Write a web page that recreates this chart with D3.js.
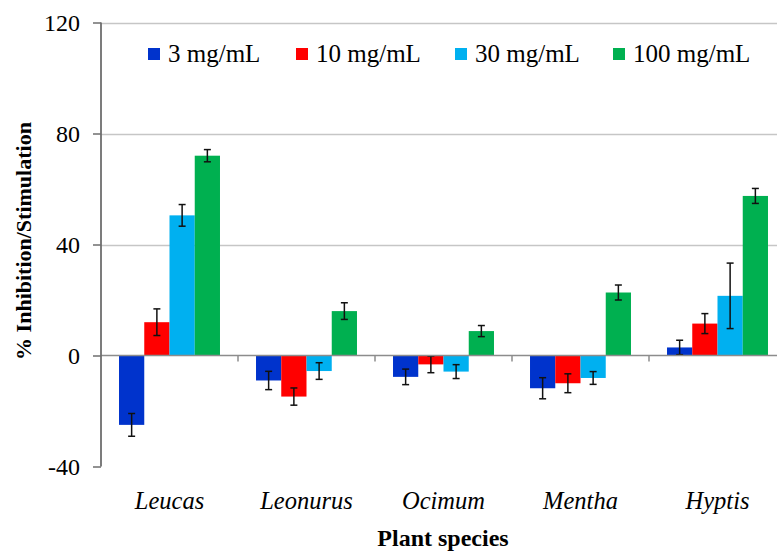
<!DOCTYPE html>
<html>
<head>
<meta charset="utf-8">
<script src="https://cdn.jsdelivr.net/npm/d3@7"></script>
<style>
  html, body { margin: 0; padding: 0; background: #fff; }
  svg { display: block; }
  svg text { font-family: "Liberation Serif", "Times New Roman", Tinos, "DejaVu Serif", serif !important; fill: #000; }
</style>
</head>
<body>
<svg id="chart" width="777" height="551"></svg>
<script>
// ---- data ----
const categories = ["Leucas", "Leonurus", "Ocimum", "Mentha", "Hyptis"];
const seriesNames = ["3 mg/mL", "10 mg/mL", "30 mg/mL", "100 mg/mL"];
const values3   = [-25, -9, -7.7, -11.8, 2.9];
const values10  = [12, -14.8, -3.2, -10, 11.5];
const values30  = [50.5, -5.6, -5.8, -8.1, 21.5];
const values100 = [72, 16, 8.8, 22.7, 57.5];
const errors3   = [4.1, 3.3, 2.8, 3.8, 2.6];
const errors10  = [4.8, 3.1, 3.0, 3.4, 3.6];
const errors30  = [3.9, 3.0, 2.5, 2.3, 11.8];
const errors100 = [2.2, 3.0, 2.0, 2.7, 2.7];
const yTicks = [-40, 0, 40, 80, 120];
const colors = ["#0033CC", "#FF0000", "#00B0F0", "#00B050"];

const seriesValues = [values3, values10, values30, values100];
const seriesErrors = [errors3, errors10, errors30, errors100];

(function () {
// ---- layout ----
const svg = d3.select("#chart");
const mLeft = 101, mRight = 786, mTop = 22.5, mBottom = 466.5;

const x0 = d3.scaleBand().domain(categories).range([mLeft, mRight]).paddingInner(0.263).paddingOuter(0.1315);
const x1 = d3.scaleBand().domain(seriesNames).range([0, x0.bandwidth()]).padding(0);
const y = d3.scaleLinear().domain([-40, 120]).range([mBottom, mTop]);
const groupScale = d3.scaleBand().domain(categories).range([mLeft, mRight]).padding(0);

// gridlines
svg.append("g").selectAll("line").data(yTicks.filter(t => t > 0)).join("line")
  .attr("x1", mLeft).attr("x2", mRight)
  .attr("y1", d => Math.round(y(d)) + 0.5).attr("y2", d => Math.round(y(d)) + 0.5)
  .attr("stroke", "#c6c6c6").attr("stroke-width", 1.3);

// bars
const groups = svg.append("g").selectAll("g").data(categories).join("g")
  .attr("transform", d => `translate(${x0(d)},0)`);

groups.each(function(cat, ci) {
  const g = d3.select(this);
  seriesNames.forEach((s, si) => {
    const v = seriesValues[si][ci];
    g.append("rect")
      .attr("x", x1(s))
      .attr("width", x1.bandwidth())
      .attr("y", y(Math.max(0, v)))
      .attr("height", Math.abs(y(v) - y(0)))
      .attr("fill", colors[si]);
  });
});

// zero line with category tick marks
svg.append("line")
  .attr("x1", mLeft).attr("x2", mRight)
  .attr("y1", y(0)).attr("y2", y(0))
  .attr("stroke", "#8c8c8c").attr("stroke-width", 1.5);
svg.append("g").selectAll("line").data(categories.slice(1)).join("line")
  .attr("x1", d => groupScale(d)).attr("x2", d => groupScale(d))
  .attr("y1", y(0)).attr("y2", y(0) + 6)
  .attr("stroke", "#8c8c8c").attr("stroke-width", 1.5);

// error bars
groups.each(function(cat, ci) {
  const g = d3.select(this);
  seriesNames.forEach((s, si) => {
    const v = seriesValues[si][ci], e = seriesErrors[si][ci];
    const cx = x1(s) + x1.bandwidth() / 2;
    const eg = g.append("g").attr("stroke", "#111").attr("stroke-width", 1.5);
    eg.append("line").attr("x1", cx).attr("x2", cx).attr("y1", y(v + e)).attr("y2", y(v - e));
    eg.append("line").attr("x1", cx - 3.5).attr("x2", cx + 3.5).attr("y1", y(v + e)).attr("y2", y(v + e));
    eg.append("line").attr("x1", cx - 3.5).attr("x2", cx + 3.5).attr("y1", y(v - e)).attr("y2", y(v - e));
  });
});

// y axis
const yAxis = svg.append("g").attr("transform", `translate(${mLeft},0)`)
  .call(d3.axisLeft(y).tickValues(yTicks).tickSize(8).tickPadding(13).tickFormat(d => String(d)));
yAxis.attr("font-family", null);
yAxis.select(".domain").attr("stroke", "#6e6e6e").attr("stroke-width", 1.8).attr("d", `M0,${mTop}V${mBottom}`);
yAxis.selectAll(".tick line").attr("stroke", "#6e6e6e").attr("stroke-width", 1.5);
yAxis.selectAll(".tick text").style("font-size", "24px").attr("fill", "#000");

// category labels
svg.append("g").selectAll("text").data(categories).join("text")
  .attr("x", d => groupScale(d) + groupScale.bandwidth() / 2)
  .attr("y", 509)
  .attr("text-anchor", "middle")
  .style("font-size", "24.5px").style("font-style", "italic")
  .text(d => d);

// axis titles
svg.append("text")
  .attr("x", 443).attr("y", 546)
  .attr("text-anchor", "middle")
  .style("font-size", "24px").style("font-weight", "bold")
  .text("Plant species");
svg.append("text")
  .attr("transform", "translate(31,241) rotate(-90)")
  .attr("text-anchor", "middle")
  .style("font-size", "22px").style("font-weight", "bold")
  .text("% Inhibition/Stimulation");

// legend
const legendX = [148, 296, 455, 613];
const legend = svg.append("g").selectAll("g").data(seriesNames).join("g")
  .attr("transform", (d, i) => `translate(${legendX[i]},48)`);
legend.append("rect").attr("width", 12).attr("height", 12).attr("fill", (d, i) => colors[i]);
legend.append("text").attr("x", 20).attr("y", 13.5)
  .style("font-size", "25px").text(d => d);
})();
</script>
</body>
</html>
